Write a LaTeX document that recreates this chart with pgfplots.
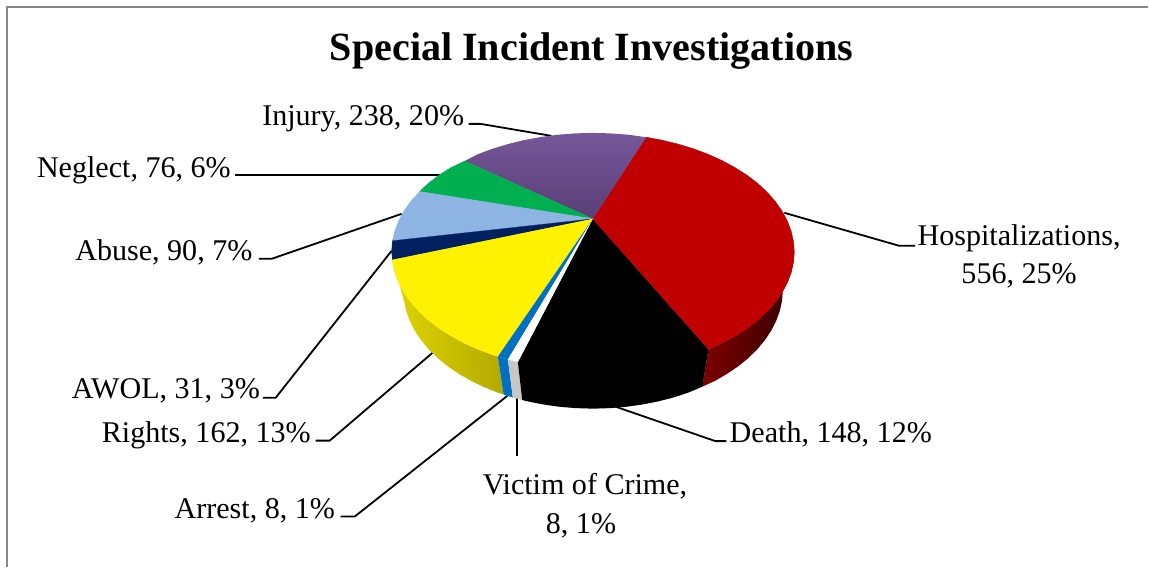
\documentclass[border=0pt]{standalone}
\usepackage{pgfplots}
\pgfplotsset{compat=1.18}
\usepackage{fontspec}
\setmainfont{Liberation Serif}
\definecolor{pRed}{HTML}{C00000}
\definecolor{pPurple}{HTML}{6F4E94}
\definecolor{pGreen}{HTML}{00B050}
\definecolor{pSky}{HTML}{8DB4E2}
\definecolor{pNavy}{HTML}{002060}
\definecolor{pYellow}{HTML}{FFF200}
\definecolor{pBlue}{HTML}{0070C0}
\definecolor{frame}{HTML}{868686}
\tikzset{
    lab/.style={anchor=base, inner sep=0pt, font=\fontsize{30.1pt}{32pt}\selectfont},
    leader/.style={black, line width=1.8pt},
}
\begin{document}
\begin{tikzpicture}
\begin{axis}[
    scale only axis, width=1149pt, height=567pt,
    xmin=0, xmax=1149, ymin=0, ymax=567,
    y dir=reverse, hide axis, clip=false,
]
% page corners and frame
\addplot[white, line width=0pt] coordinates {(0,0)(1149,0)(1149,567)(0,567)} --cycle;
\addplot[frame, line width=2pt] coordinates {(1149,7.5)(7.5,7.5)(7.5,567)};

% leader lines
\addplot[leader] coordinates {(469,124)(481,124)(552,136)};
\addplot[leader] coordinates {(235,175)(440,175)};
\addplot[leader] coordinates {(259,259)(272,259)(402,214)};
\addplot[leader] coordinates {(263,398)(276,398)(392,251)};
\addplot[leader] coordinates {(316,441)(330,441)(433,353)};
\addplot[leader] coordinates {(341,517)(355,517)(508,396)};
\addplot[leader] coordinates {(517.5,398)(517.5,456)};
\addplot[leader] coordinates {(616,407)(716,441.5)(727,441.5)};
\addplot[leader] coordinates {(785,213)(900,246)(916,246)};

% side walls
\addplot[draw=none, left color=black!35!pRed, right color=black!72!pRed] coordinates {
    (709.1,349.5)(723,343.2)(736,336.1)(747.9,328.5)(758.6,320.3)(768,311.5)(776.1,302.3)(782.8,292.7)
    (788.1,282.8)(791.9,272.7)(794.2,262.4)(795,252)
    (783.5,290)(782.8,300.4)(780.6,310.7)(777,320.8)(772,330.7)(765.7,340.3)(758,349.5)(749.1,358.3)
    (739,366.5)(727.8,374.1)(715.6,381.2)(703,387)
} --cycle;
\addplot[draw=none, left color=black!12!pYellow, right color=black!30!pYellow] coordinates {
    (392.7,260)(392.8,262.4)(395.1,272.7)(398.9,282.8)(404.2,292.7)(410.9,302.3)(419,311.5)(428.4,320.3)
    (439.1,328.5)(451,336.1)(464,343.2)(477.9,349.5)(492.8,355.1)(498.3,356.9)
    (504,394.9)(498.5,393.1)(484.5,387.5)(471.4,381.2)(459.2,374.1)(448,366.5)(437.9,358.3)(429,349.5)
    (421.3,340.3)(415,330.7)(410,320.8)(406.4,310.7)(404.2,300.4)
} --cycle;
\addplot[fill=pBlue, draw=none] coordinates {(498.3,356.9)(508.3,359.8)(513.3,397.8)(504,394.9)} --cycle;
\addplot[fill=black!22, draw=none] coordinates {(508.3,359.8)(518.3,362.4)(522.7,400.4)(513.3,397.8)} --cycle;

% black wedge, top and side are alike
\addplot[fill=black, draw=none] coordinates {
    (593.3,219)(709.1,349.5)(703,387)(688.5,393.1)(673.8,397.9)(658.5,401.8)(642.7,404.9)(626.5,407.2)
    (610.1,408.5)(593.5,409)(576.9,408.5)(560.5,407.2)(544.3,404.9)(528.5,401.8)(522.7,400.4)(518.3,362.4)
} --cycle;

% top faces
\addplot[fill=pRed, draw=pRed, line width=0.3pt] coordinates {
    (593.3,219)(646.7,137.3)(662.4,140.2)(678.7,144.2)(694.3,148.9)(709.1,154.5)(723,160.8)(736,167.9)
    (747.9,175.5)(758.6,183.7)(768,192.5)(776.1,201.7)(782.8,211.3)(788.1,221.2)(791.9,231.3)(794.2,241.6)
    (795,252)(794.2,262.4)(791.9,272.7)(788.1,282.8)(782.8,292.7)(776.1,302.3)(768,311.5)(758.6,320.3)
    (747.9,328.5)(736,336.1)(723,343.2)(709.1,349.5)
} --cycle;
\addplot[draw=none, top color=pPurple!95!white, bottom color=pPurple!80!black] coordinates {
    (593.3,219)(465,161.2)(477.9,154.5)(492.8,148.9)(508.3,144.2)(524.6,140.2)(541.4,137.1)(558.5,134.8)
    (575.9,133.5)(593.5,133)(611.1,133.5)(628.5,134.8)(646.7,137.3)
} --cycle;
\addplot[fill=pGreen, draw=pGreen, line width=0.3pt] coordinates {
    (593.3,219)(420,191.7)(428.4,183.7)(439.1,175.5)(451,167.9)(465,161.2)
} --cycle;
\addplot[fill=pSky, draw=pSky, line width=0.3pt] coordinates {
    (593.3,219)(392.7,241)(395.1,231.3)(398.9,221.2)(404.2,211.3)(410.9,201.7)(420,191.7)
} --cycle;
\addplot[fill=pNavy, draw=pNavy, line width=0.3pt] coordinates {
    (593.3,219)(392.7,260)(392,252)(392.7,241)
} --cycle;
\addplot[fill=pYellow, draw=none] coordinates {
    (593.3,219)(498.3,356.9)(492.8,355.1)(477.9,349.5)(464,343.2)(451,336.1)(439.1,328.5)(428.4,320.3)
    (419,311.5)(410.9,302.3)(404.2,292.7)(398.9,282.8)(395.1,272.7)(392.8,262.4)(392.7,260)
} --cycle;
\addplot[fill=pBlue, draw=none] coordinates {(593.3,219)(508.3,359.8)(498.3,356.9)} --cycle;
\addplot[fill=white, draw=none] coordinates {(593.3,219)(518.3,362.4)(508.3,359.8)} --cycle;

% labels
\node[anchor=base, inner sep=0pt, font=\fontsize{40.1pt}{42pt}\selectfont\bfseries] at (axis cs:592,61) {Special Incident Investigations};
\node[lab] at (axis cs:363.5,126) {Injury, 238, 20\%};
\node[lab] at (axis cs:134,178) {Neglect, 76, 6\%};
\node[lab] at (axis cs:164,261) {Abuse, 90, 7\%};
\node[lab] at (axis cs:166,399) {AWOL, 31, 3\%};
\node[lab] at (axis cs:206.5,443) {Rights, 162, 13\%};
\node[lab] at (axis cs:255,519) {Arrest, 8, 1\%};
\node[lab] at (axis cs:831.5,443) {Death, 148, 12\%};
\node[lab] at (axis cs:1020,246) {Hospitalizations,};
\node[lab] at (axis cs:1020,284) {556, 25\%};
\node[lab] at (axis cs:585.5,495) {Victim of Crime,};
\node[lab] at (axis cs:581.5,534) {8, 1\%};
\end{axis}
\end{tikzpicture}
\end{document}
